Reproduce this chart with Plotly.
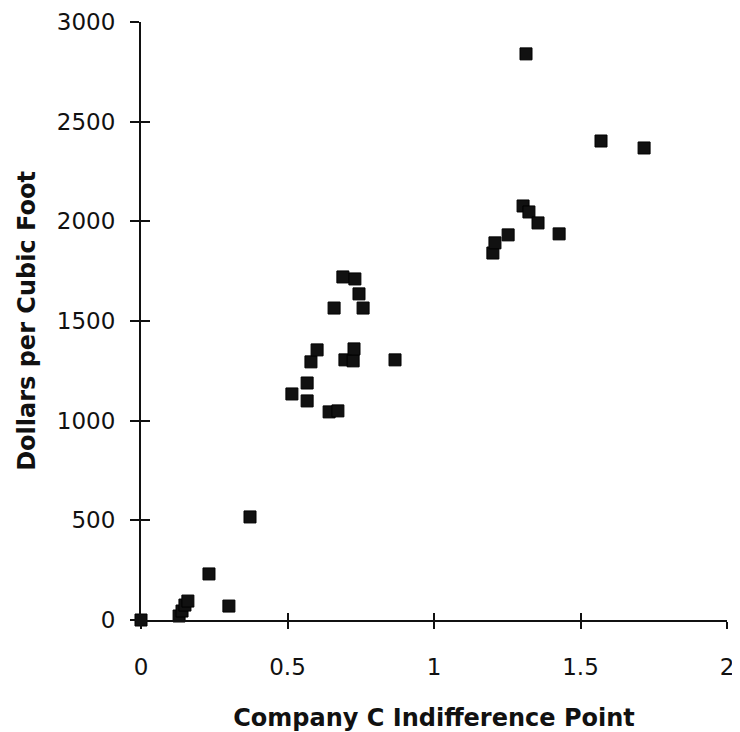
import plotly.graph_objects as go

x_vals = [0.0, 0.13, 0.14, 0.15, 0.16, 0.232, 0.300, 0.372,
          0.515, 0.567, 0.567, 0.580, 0.601, 0.642, 0.672, 0.659,
          0.689, 0.696, 0.724, 0.727, 0.730, 0.744, 0.758, 0.867,
          1.201, 1.208, 1.253, 1.304, 1.314, 1.324, 1.355, 1.427,
          1.570, 1.717]
y_vals = [0, 20, 45, 75, 95, 231, 70, 517,
          1134, 1189, 1099, 1295, 1355, 1044, 1049, 1565,
          1721, 1305, 1300, 1360, 1711, 1636, 1565, 1305,
          1841, 1892, 1932, 2077, 2840, 2047, 1992, 1937,
          2403, 2368]

x_ticks = [0, 0.5, 1, 1.5, 2]
x_tick_text = ["0", "0.5", "1", "1.5", "2"]
y_ticks = [0, 500, 1000, 1500, 2000, 2500, 3000]
y_tick_text = ["0", "500", "1000", "1500", "2000", "2500", "3000"]

FONT = "DejaVu Sans"

fig = go.Figure()
fig.add_trace(go.Scatter(
    x=x_vals, y=y_vals, mode="markers",
    marker=dict(symbol="square", size=12, color="#111111",
                line=dict(color="#000000", width=1)),
    cliponaxis=False, showlegend=False,
))
fig.add_trace(go.Scatter(x=[None], y=[None], xaxis="x2", yaxis="y2",
                         showlegend=False))

# page body has an 8px margin, so the figure is sized to fit the window
fig.update_layout(
    width=732, height=724,
    margin=dict(l=133, r=13, t=14, b=112, autoexpand=False),
    paper_bgcolor="white", plot_bgcolor="white",
    font=dict(family=FONT, color="#111111"),
    xaxis=dict(range=[0, 2], tickvals=x_ticks, ticktext=x_tick_text,
               automargin=False,
               showgrid=False, zeroline=False, showline=True,
               linecolor="#111111", linewidth=2,
               ticks="outside", ticklen=7, tickwidth=1.5, tickcolor="#111111",
               tickfont=dict(size=23, family=FONT),
               ticklabelstandoff=18,
               title=dict(text="<b>Company C Indifference Point</b>",
                          font=dict(size=24, family=FONT), standoff=31)),
    yaxis=dict(range=[0, 3000], tickvals=y_ticks, ticktext=y_tick_text,
               automargin=False,
               showgrid=False, zeroline=False, showline=True,
               linecolor="#111111", linewidth=2,
               ticks="outside", ticklen=9, tickwidth=1.5, tickcolor="#111111",
               tickfont=dict(size=23, family=FONT),
               ticklabelstandoff=10,
               title=dict(text="<b>Dollars per Cubic Foot</b>",
                          font=dict(size=24, family=FONT), standoff=14)),
    xaxis2=dict(range=[0, 2], tickvals=x_ticks, overlaying="x",
                automargin=False,
                showticklabels=False, showgrid=False, zeroline=False,
                ticks="inside", ticklen=7, tickwidth=1.5, tickcolor="#111111",
                showline=False),
    yaxis2=dict(range=[0, 3000], tickvals=y_ticks, overlaying="y",
                automargin=False,
                showticklabels=False, showgrid=False, zeroline=False,
                ticks="inside", ticklen=9, tickwidth=1.5, tickcolor="#111111",
                showline=False),
)

fig.write_html("out.html")
